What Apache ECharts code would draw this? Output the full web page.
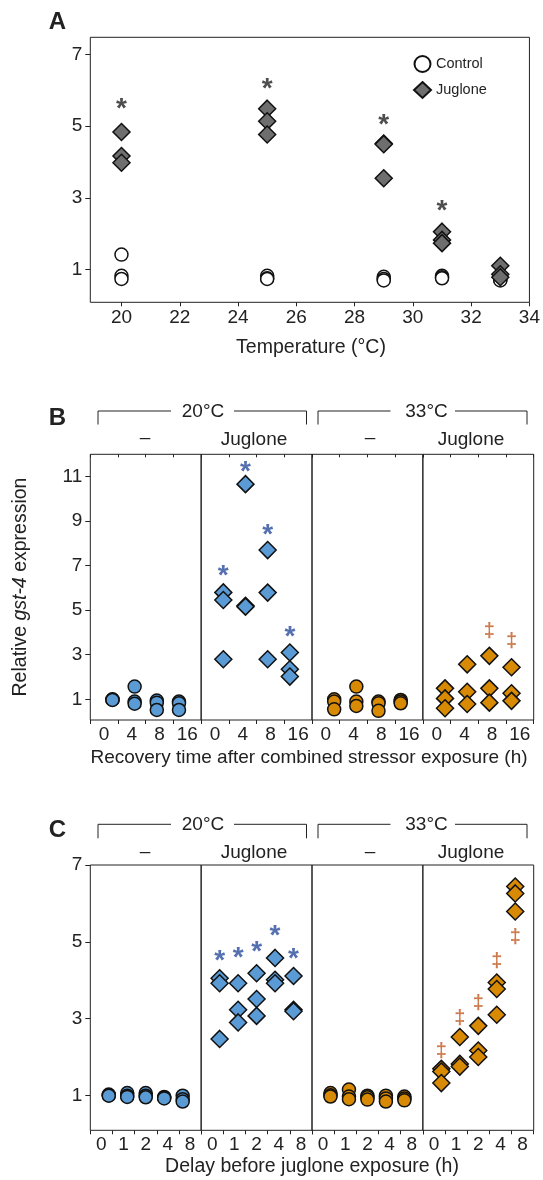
<!DOCTYPE html>
<html><head><meta charset="utf-8">
<script src="https://cdn.jsdelivr.net/npm/echarts@6/dist/echarts.min.js"></script>
<style>html,body{margin:0;padding:0;background:#fff}#c{width:543px;height:1180px}</style>
</head><body><div id="c"></div>
<script>
// ---------------- DATA ----------------
// Panel A: temperature series
const temperatures = [20, 25, 29, 31, 33];
const tempTicks = [20, 22, 24, 26, 28, 30, 32, 34];
const controlA = [[1.42, 0.83, 0.74], [0.83, 0.76, 0.74], [0.80, 0.74, 0.70], [0.83, 0.79, 0.76], [0.76, 0.72, 0.70]];
const jugloneA = [[4.84, 4.17, 3.98], [5.49, 5.14, 4.77], [4.52, 4.50, 3.55], [2.06, 1.83, 1.74], [1.11, 0.87, 0.79]];
const starTempA = [20, 25, 29, 31];
const starValA = [5.63, 6.20, 5.20, 2.80];
const yTicksA = [1, 3, 5, 7];

// Panel B: recovery time
const recoveryCats = ['0', '4', '8', '16'];
const b20Control = [[1.00, 0.98, 0.97], [1.57, 0.90, 0.80], [0.94, 0.85, 0.52], [0.90, 0.82, 0.52]];
const b20Juglone = [[5.80, 5.46, 2.80], [10.66, 5.20, 5.16], [7.70, 5.79, 2.80], [3.10, 2.35, 2.02]];
const b33Control = [[1.00, 0.90, 0.55], [1.57, 0.90, 0.70], [0.90, 0.82, 0.48], [0.97, 0.90, 0.82]];
const b33Juglone = [[1.49, 1.04, 0.60], [2.57, 1.34, 0.79], [2.95, 1.49, 0.85], [2.44, 1.27, 0.93]];
const bStar20 = [6.78, 11.48, 8.65, 4.07];
const bDagger33 = [null, null, 4.04, 3.60];
const yTicksB = [1, 3, 5, 7, 9, 11];

// Panel C: delay before juglone exposure
const delayCats = ['0', '1', '2', '4', '8'];
const c20Control = [[1.02, 1.00, 0.99], [1.06, 0.99, 0.96], [1.06, 0.99, 0.95], [0.96, 0.94, 0.92], [0.99, 0.90, 0.84]];
const c20Juglone = [[4.05, 3.92, 2.47], [3.92, 3.23, 2.90], [4.18, 3.51, 3.07], [4.58, 4.01, 3.92], [4.11, 3.23, 3.19]];
const c33Control = [[1.06, 1.00, 0.97], [1.15, 0.97, 0.90], [0.99, 0.95, 0.89], [0.99, 0.92, 0.84], [0.97, 0.92, 0.87]];
const c33Juglone = [[1.69, 1.62, 1.32], [2.52, 1.82, 1.75], [2.81, 2.17, 2.00], [3.94, 3.77, 3.10], [6.44, 6.26, 5.79]];
const cStar20 = [4.64, 4.72, 4.88, 5.31, 4.69];
const cDagger33 = [2.14, 3.01, 3.39, 4.49, 5.12];
const yTicksC = [1, 3, 5, 7];

// ---------------- STYLE ----------------
const FONT = '"Liberation Sans", Arial, Helvetica, sans-serif';
const INK = '#222';
const BLUE = '#5b9bd5';
const ORANGE = '#d88a04';
const GRAY = '#6e6e6e';
const STAR_BLUE = '#2a4c9c';
const DAGGER = '#c05a22';
const EDGE = '#111';
const TICK_FS = 19;

const grids = [], xAxes = [], yAxes = [], series = [];

function pairs(xs, groups) {
  const out = [];
  groups.forEach((g, i) => g.forEach(v => out.push([xs[i], v])));
  return out;
}
function markPairs(xs, vals) {
  const out = [];
  vals.forEach((v, i) => { if (v !== null) out.push([xs[i], v]); });
  return out;
}
function pointSeries(name, xi, yi, data, symbol, size, color, z) {
  series.push({
    name, type: 'scatter', xAxisIndex: xi, yAxisIndex: yi, data,
    symbol, symbolSize: size, z: z || 3,
    itemStyle: { color, borderColor: EDGE, borderWidth: 1.5, opacity: 1 },
    emphasis: { disabled: true }, animation: false
  });
}
function textSeries(name, xi, yi, data, text, color, fontSize, bold, offY) {
  series.push({
    name, type: 'scatter', xAxisIndex: xi, yAxisIndex: yi, data,
    symbolSize: 0.1, itemStyle: { color: 'rgba(0,0,0,0)' }, z: 5,
    label: { show: true, position: 'inside', formatter: text, color, fontSize,
      fontWeight: bold ? 'bold' : 'normal', fontFamily: FONT, offset: [0, offY] },
    emphasis: { disabled: true }, animation: false
  });
}

// ---------------- PANEL A ----------------
grids.push({ left: 90.3, top: 37.3, width: 443.7, height: 265, show: true, borderColor: INK, borderWidth: 1, backgroundColor: 'transparent' });
xAxes.push({
  type: 'value', gridIndex: 0, min: 18.93, max: 34,
  axisLine: { show: false }, splitLine: { show: false },
  axisTick: { show: true, length: 4, customValues: tempTicks, lineStyle: { color: INK } },
  axisLabel: { customValues: tempTicks, fontSize: TICK_FS, color: INK, fontFamily: FONT, margin: 6 }
});
yAxes.push({
  type: 'value', gridIndex: 0, min: 0.09, max: 7.48,
  axisLine: { show: false }, splitLine: { show: false },
  axisTick: { show: true, length: 5, customValues: yTicksA, lineStyle: { color: INK } },
  axisLabel: { customValues: yTicksA, fontSize: TICK_FS, color: INK, fontFamily: FONT, margin: 8 }
});
pointSeries('Control', 0, 0, pairs(temperatures, controlA), 'circle', 13, '#ffffff', 3);
pointSeries('Juglone', 0, 0, pairs(temperatures, jugloneA), 'diamond', 17, GRAY, 4);
textSeries('A stars', 0, 0, markPairs(starTempA, starValA), '*', '#222', 28, true, 6);

// ---------------- PANELS B & C ----------------
function subPanel(opt) {
  const gi = grids.length;
  grids.push({ left: opt.left, top: opt.top, width: opt.width, height: opt.height, show: true, borderColor: INK, borderWidth: 1, backgroundColor: 'transparent' });
  xAxes.push({
    type: 'category', gridIndex: gi, data: opt.cats, position: 'bottom',
    axisLine: { show: false }, splitLine: { show: false },
    axisTick: { show: true, length: 4, lineStyle: { color: INK } },
    axisLabel: { fontSize: TICK_FS, color: INK, fontFamily: FONT, margin: 5 }
  });
  const valIdx = xAxes.length;
  xAxes.push({ type: 'value', gridIndex: gi, min: 0, max: opt.cats.length + 1, show: false });
  if (opt.topTicks) {
    xAxes.push({
      type: 'category', gridIndex: gi, data: opt.cats, position: 'top',
      axisLine: { show: false }, splitLine: { show: false },
      axisTick: { show: true, inside: true, length: 3, lineStyle: { color: INK } },
      axisLabel: { show: false }
    });
  }
  const yi = yAxes.length;
  yAxes.push({
    type: 'value', gridIndex: gi, min: opt.yMin, max: opt.yMax,
    axisLine: { show: false }, splitLine: { show: false },
    axisTick: { show: opt.showY, length: 5, customValues: opt.yTicks, lineStyle: { color: INK } },
    axisLabel: { show: opt.showY, customValues: opt.yTicks, fontSize: TICK_FS, color: INK, fontFamily: FONT, margin: 8 }
  });
  const xs = opt.cats.map((c, i) => i + 1);
  pointSeries(opt.name, valIdx, yi, pairs(xs, opt.values), opt.symbol, opt.symbol === 'circle' ? 13 : 17, opt.color, 3);
  if (opt.stars) textSeries(opt.name + ' stars', valIdx, yi, markPairs(xs, opt.stars), '*', STAR_BLUE, 28, true, 6);
  if (opt.daggers) textSeries(opt.name + ' daggers', valIdx, yi, markPairs(xs, opt.daggers), '‡', DAGGER, 20, true, 0);
}

const SUBW = 110.85;
const bSets = [
  { name: 'B 20°C control', values: b20Control, symbol: 'circle', color: BLUE },
  { name: 'B 20°C juglone', values: b20Juglone, symbol: 'diamond', color: BLUE, stars: bStar20 },
  { name: 'B 33°C control', values: b33Control, symbol: 'circle', color: ORANGE },
  { name: 'B 33°C juglone', values: b33Juglone, symbol: 'diamond', color: ORANGE, daggers: bDagger33 }
];
bSets.forEach((s, k) => subPanel(Object.assign({
  left: 90.3 + k * SUBW, top: 454.3, width: SUBW, height: 265.7,
  cats: recoveryCats, yMin: 0.07, yMax: 12, yTicks: yTicksB, showY: k === 0, topTicks: true
}, s)));

const cSets = [
  { name: 'C 20°C control', values: c20Control, symbol: 'circle', color: BLUE },
  { name: 'C 20°C juglone', values: c20Juglone, symbol: 'diamond', color: BLUE, stars: cStar20 },
  { name: 'C 33°C control', values: c33Control, symbol: 'circle', color: ORANGE },
  { name: 'C 33°C juglone', values: c33Juglone, symbol: 'diamond', color: ORANGE, daggers: cDagger33 }
];
cSets.forEach((s, k) => subPanel(Object.assign({
  left: 90.3 + k * SUBW, top: 865, width: SUBW, height: 265.3,
  cats: delayCats, yMin: 0.09, yMax: 7, yTicks: yTicksC, showY: k === 0, topTicks: false
}, s)));

// ---------------- GRAPHIC (labels, brackets) ----------------
function txt(x, y, text, size, opts) {
  opts = opts || {};
  return {
    type: 'text', x, y, rotation: opts.rotation || 0, z: 10,
    style: Object.assign({
      text, fontSize: size, fontFamily: FONT, fill: opts.fill || INK,
      fontWeight: opts.bold ? 'bold' : 'normal',
      align: 'center', verticalAlign: 'middle', textAlign: 'center', textVerticalAlign: 'middle'
    }, opts.extra || {})
  };
}
function bracket(x1, x2, gapL, gapR, y, yb) {
  const ls = { stroke: INK, lineWidth: 1, fill: null };
  return [
    { type: 'polyline', z: 10, shape: { points: [[x1, yb], [x1, y], [gapL, y]] }, style: ls },
    { type: 'polyline', z: 10, shape: { points: [[gapR, y], [x2, y], [x2, yb]] }, style: ls }
  ];
}
const graphics = [];
graphics.push(txt(57.5, 22.5, 'A', 24, { bold: true }));
graphics.push(txt(57.5, 418, 'B', 24, { bold: true }));
graphics.push(txt(57.5, 830, 'C', 24, { bold: true }));

// Panel B header
graphics.push(...bracket(98, 306.5, 171, 234, 411, 424.5));
graphics.push(...bracket(318, 527, 390.5, 455, 411, 424.5));
graphics.push(txt(203, 411.5, '20°C', 19));
graphics.push(txt(426.5, 411.5, '33°C', 19));
graphics.push(txt(145, 438, '–', 19));
graphics.push(txt(254, 440, 'Juglone', 19));
graphics.push(txt(370, 438, '–', 19));
graphics.push(txt(471, 440, 'Juglone', 19));

// Panel C header
graphics.push(...bracket(98, 306.5, 171, 234, 824.3, 838.3));
graphics.push(...bracket(318, 527, 390.5, 455, 824.3, 838.3));
graphics.push(txt(203, 824.5, '20°C', 19));
graphics.push(txt(426.5, 824.5, '33°C', 19));
graphics.push(txt(145, 852, '–', 19));
graphics.push(txt(254, 853, 'Juglone', 19));
graphics.push(txt(370, 852, '–', 19));
graphics.push(txt(471, 853, 'Juglone', 19));

// Axis titles
graphics.push(txt(311, 348, 'Temperature (°C)', 19.5));
graphics.push(txt(309, 758, 'Recovery time after combined stressor exposure (h)', 19));
graphics.push(txt(312, 1167, 'Delay before juglone exposure (h)', 19.5));
graphics.push({
  type: 'text', x: 21, y: 587, rotation: Math.PI / 2, z: 10,
  style: {
    text: '{a|Relative }{i|gst-4}{a| expression}',
    rich: {
      a: { fontSize: 19.5, fontFamily: FONT, fill: INK, color: INK },
      i: { fontSize: 19.5, fontFamily: FONT, fontStyle: 'italic', fill: INK, color: INK }
    },
    fill: INK, align: 'center', verticalAlign: 'middle', textAlign: 'center', textVerticalAlign: 'middle'
  }
});

const option = {
  animation: false,
  backgroundColor: '#ffffff',
  grid: grids, xAxis: xAxes, yAxis: yAxes, series,
  legend: {
    data: [{ name: 'Control', icon: 'circle' }, { name: 'Juglone', icon: 'diamond' }],
    orient: 'vertical', left: 408, top: 50, itemWidth: 17, itemHeight: 16, itemGap: 8,
    selectedMode: false,
    textStyle: { fontSize: 14.5, fontFamily: FONT, color: INK }
  },
  graphic: graphics
};
const chart = echarts.init(document.getElementById('c'), null, { renderer: 'canvas' });
chart.setOption(option);
</script></body></html>
